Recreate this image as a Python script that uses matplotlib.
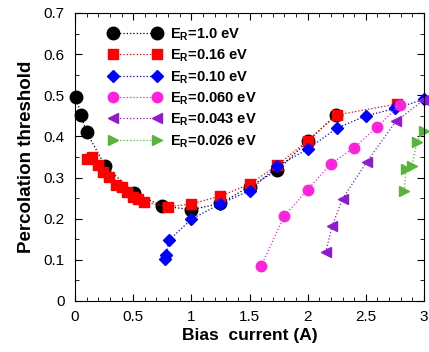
import matplotlib
matplotlib.use('Agg')
import matplotlib.pyplot as plt
from matplotlib.ticker import MultipleLocator

plt.rcParams.update({'font.family': 'Liberation Sans', 'font.size': 10,
                     'mathtext.fontset': 'custom',
                     'mathtext.rm': 'Liberation Sans',
                     'mathtext.bf': 'Liberation Sans:bold'})

# E_R = 1.0 eV
x_10 = [0.01, 0.05, 0.1, 0.26, 0.51, 0.75, 1.0, 1.25, 1.5, 1.74, 2.0, 2.24]
y_10 = [0.497, 0.452, 0.41, 0.328, 0.262, 0.231, 0.222, 0.237, 0.278, 0.318, 0.388, 0.452]
# E_R = 0.16 eV
x_016 = [0.106, 0.15, 0.2, 0.24, 0.295, 0.35, 0.4, 0.45, 0.5, 0.545, 0.59, 0.8,
         1.0, 1.25, 1.5, 1.74, 2.0, 2.25, 2.77]
y_016 = [0.345, 0.349, 0.33, 0.314, 0.302, 0.282, 0.276, 0.266, 0.252, 0.247, 0.241,
         0.229, 0.236, 0.255, 0.284, 0.33, 0.39, 0.452, 0.479]
# E_R = 0.10 eV
x_010 = [0.77, 0.78, 0.81, 1.0, 1.25, 1.5, 1.74, 2.0, 2.25, 2.5, 2.75, 3.0]
y_010 = [0.101, 0.112, 0.148, 0.199, 0.236, 0.268, 0.328, 0.369, 0.42, 0.45, 0.468, 0.49]
# E_R = 0.060 eV
x_060 = [1.6, 1.8, 2.0, 2.2, 2.4, 2.6, 2.79]
y_060 = [0.085, 0.207, 0.271, 0.333, 0.373, 0.424, 0.476]
# E_R = 0.043 eV
x_043 = [2.155, 2.21, 2.3, 2.51, 2.76, 3.0]
y_043 = [0.118, 0.182, 0.249, 0.339, 0.437, 0.489]
# E_R = 0.026 eV
x_026 = [2.83, 2.846, 2.895, 2.94, 3.0]
y_026 = [0.267, 0.321, 0.328, 0.387, 0.414]

series = [
    (x_10, y_10, 'black', 'o', 9.0, r'E$_\mathbf{R}$=1.0 eV'),
    (x_016, y_016, 'red', 's', 7.0, r'E$_\mathbf{R}$=0.16 eV'),
    (x_010, y_010, 'blue', 'D', 6.5, r'E$_\mathbf{R}$=0.10 eV'),
    (x_060, y_060, '#ff22dd', 'o', 7.5, r'E$_\mathbf{R}$=0.060 eV'),
    (x_043, y_043, '#8e1ccc', '<', 7.5, r'E$_\mathbf{R}$=0.043 eV'),
    (x_026, y_026, '#5ab43c', '>', 7.5, r'E$_\mathbf{R}$=0.026 eV'),
]

fig = plt.figure(figsize=(4.29, 3.52), dpi=100)
ax = fig.add_axes([75/429, 51/352, 349/429, 288/352])

for x, y, c, m, ms, lab in series:
    ax.plot(x, y, ls=':', lw=0.9, color=c, marker=m, ms=ms,
            markeredgecolor=c, label=lab, clip_on=False)

ax.set_xlim(0, 3)
ax.set_ylim(0, 0.7)
ax.xaxis.set_minor_locator(MultipleLocator(0.1))
ax.yaxis.set_minor_locator(MultipleLocator(0.05))
ax.set_xticks([0, 0.5, 1, 1.5, 2, 2.5, 3])
ax.set_xticklabels(['0', '0.5', '1', '1.5', '2', '2.5', '3'])
ax.set_yticks([0, 0.1, 0.2, 0.3, 0.4, 0.5, 0.6, 0.7])
ax.set_yticklabels(['0', '0.1', '0.2', '0.3', '0.4', '0.5', '0.6', '0.7'])
ax.tick_params(which='both', direction='in', top=True, right=True, labelsize=11)
ax.tick_params(axis='y', which='major', pad=7.5)
ax.tick_params(axis='x', which='major', pad=6.5)
ax.tick_params(which='major', length=5)
ax.tick_params(which='minor', length=3)

ax.set_xlabel('Bias  current (A)', fontweight='bold', fontsize=12.5, labelpad=3)
ax.set_ylabel('Percolation threshold', fontweight='bold', fontsize=13.5, labelpad=6)

leg = ax.legend(loc='upper left', bbox_to_anchor=(0.06, 1.0), frameon=False,
                numpoints=2, handlelength=3.6, labelspacing=0.32, handletextpad=0.6,
                prop={'weight': 'bold', 'size': 10.5})

fig.savefig('out.png', dpi=100)
